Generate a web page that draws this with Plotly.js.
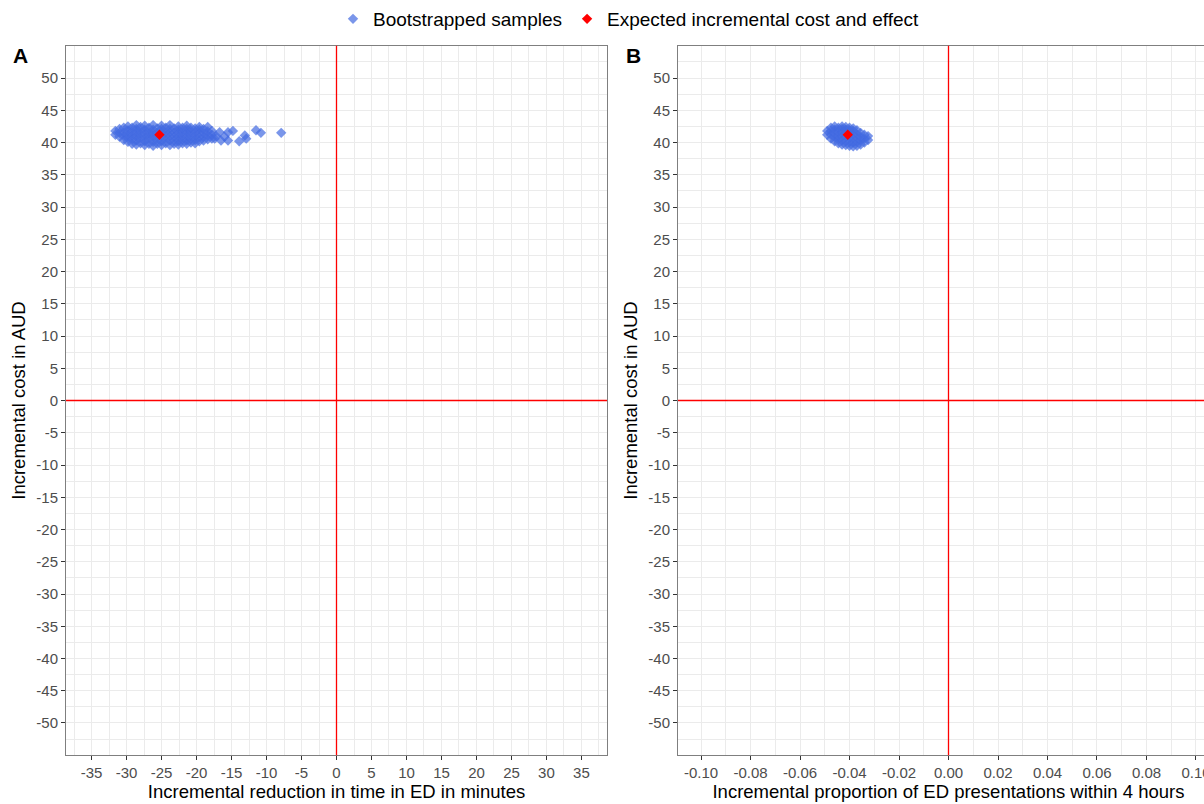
<!DOCTYPE html>
<html>
<head>
<meta charset="utf-8">
<script src="https://cdn.plot.ly/plotly-3.0.1.min.js"></script>
<style>
  html, body { margin: 0; padding: 0; overflow: hidden; background: #fff; }
  #chart { width: 1224px; height: 804px; }
</style>
</head>
<body>
<div id="chart"></div>
<script>
// ---------------- DATA ----------------
// Panel A: bootstrapped samples (incremental minutes, incremental cost AUD)
const bootA_x = [
  -31.6,-31.6,
  -31.0,-31.0,-31.0,
  -30.4,-30.4,-30.4,-30.4,
  -29.8,-29.8,-29.8,-29.8,-29.8,
  -29.2,-29.2,-29.2,-29.2,-29.2,
  -28.6,-28.6,-28.6,-28.6,-28.6,-28.6,
  -28.0,-28.0,-28.0,-28.0,-28.0,
  -27.4,-27.4,-27.4,-27.4,-27.4,-27.4,
  -26.8,-26.8,-26.8,-26.8,-26.8,
  -26.2,-26.2,-26.2,-26.2,-26.2,-26.2,
  -25.6,-25.6,-25.6,-25.6,-25.6,
  -25.0,-25.0,-25.0,-25.0,-25.0,-25.0,
  -24.4,-24.4,-24.4,-24.4,-24.4,
  -23.8,-23.8,-23.8,-23.8,-23.8,-23.8,
  -23.2,-23.2,-23.2,-23.2,-23.2,
  -22.6,-22.6,-22.6,-22.6,-22.6,-22.6,
  -22.0,-22.0,-22.0,-22.0,-22.0,
  -21.4,-21.4,-21.4,-21.4,-21.4,-21.4,
  -20.8,-20.8,-20.8,-20.8,-20.8,
  -20.2,-20.2,-20.2,-20.2,-20.2,
  -19.6,-19.6,-19.6,-19.6,-19.6,
  -19.0,-19.0,-19.0,-19.0,
  -18.4,-18.4,-18.4,-18.4,
  -17.8,-17.8,-17.8,
  -17.2,-16.7,-16.0,-15.5,-15.5,-14.8,-13.9,-13.1,-12.9,-11.5,-10.8,-7.9,-17.4,-16.5
];
const bootA_y = [
  41.2,41.8,
  40.9,41.5,42.1,
  40.4,41.0,41.6,42.3,
  40.1,40.7,41.3,41.9,42.5,
  39.8,40.5,41.1,41.7,42.3,
  39.7,40.3,40.9,41.5,42.1,42.7,
  39.9,40.6,41.2,41.8,42.4,
  39.6,40.2,40.8,41.4,42.0,42.6,
  39.8,40.5,41.1,41.7,42.3,
  39.5,40.1,40.8,41.4,42.0,42.7,
  39.8,40.4,41.0,41.6,42.2,
  39.6,40.2,40.9,41.5,42.1,42.6,
  39.9,40.5,41.1,41.7,42.3,
  39.6,40.3,40.9,41.5,42.1,42.7,
  39.8,40.4,41.0,41.6,42.2,
  39.7,40.2,40.8,41.4,42.0,42.5,
  39.9,40.5,41.1,41.7,42.3,
  39.8,40.3,40.9,41.5,42.1,42.6,
  40.0,40.6,41.2,41.8,42.3,
  39.9,40.4,41.0,41.6,42.2,
  40.2,40.8,41.4,42.0,42.4,
  40.3,40.9,41.5,42.1,
  40.5,41.1,41.7,42.4,
  40.6,41.2,41.8,
  41.0,41.6,40.9,41.6,40.3,41.8,40.2,41.1,40.6,41.9,41.5,41.5,40.6,40.3
];
// Panel B: bootstrapped samples (incremental proportion, incremental cost AUD)
const bootB_x = [
  -0.0490,-0.0490,
  -0.0475,-0.0475,-0.0475,-0.0475,
  -0.0460,-0.0460,-0.0460,-0.0460,-0.0460,
  -0.0445,-0.0445,-0.0445,-0.0445,-0.0445,
  -0.0430,-0.0430,-0.0430,-0.0430,-0.0430,-0.0430,
  -0.0415,-0.0415,-0.0415,-0.0415,-0.0415,-0.0415,
  -0.0400,-0.0400,-0.0400,-0.0400,-0.0400,-0.0400,
  -0.0385,-0.0385,-0.0385,-0.0385,-0.0385,-0.0385,
  -0.0370,-0.0370,-0.0370,-0.0370,-0.0370,
  -0.0355,-0.0355,-0.0355,-0.0355,
  -0.0340,-0.0340,-0.0340,
  -0.0325,-0.0325
];
const bootB_y = [
  41.2,41.8,
  40.6,41.2,41.8,42.3,
  40.2,40.8,41.4,42.0,42.5,
  39.9,40.5,41.1,41.7,42.3,
  39.7,40.3,40.9,41.5,42.1,42.5,
  39.6,40.2,40.8,41.4,42.0,42.4,
  39.5,40.1,40.7,41.3,41.9,42.3,
  39.4,40.0,40.6,41.2,41.8,42.2,
  39.5,40.1,40.7,41.3,41.9,
  39.7,40.3,40.9,41.5,
  40.0,40.6,41.2,
  40.4,41.0
];
// Expected incremental cost and effect
const expA_x = [-25.3];
const expA_y = [41.2];
const expB_x = [-0.0407];
const expB_y = [41.2];

// Tick values / labels
const yTickVals = [-50,-45,-40,-35,-30,-25,-20,-15,-10,-5,0,5,10,15,20,25,30,35,40,45,50];
const yTickText = ["-50","-45","-40","-35","-30","-25","-20","-15","-10","-5","0","5","10","15","20","25","30","35","40","45","50"];
const xATickVals = [-35,-30,-25,-20,-15,-10,-5,0,5,10,15,20,25,30,35];
const xATickText = ["-35","-30","-25","-20","-15","-10","-5","0","5","10","15","20","25","30","35"];
const xBTickVals = [-0.10,-0.08,-0.06,-0.04,-0.02,0,0.02,0.04,0.06,0.08,0.10];
const xBTickText = ["-0.10","-0.08","-0.06","-0.04","-0.02","0.00","0.02","0.04","0.06","0.08","0.10"];

const legendNames = ["Bootstrapped samples", "Expected incremental cost and effect"];
const xTitleA = "Incremental reduction in time in ED in minutes";
const xTitleB = "Incremental proportion of ED presentations within 4 hours";
const yTitle = "Incremental cost in AUD";

// ---------------- STYLE ----------------
const W = 1224, H = 804;
const BLUE = "#4169E1", RED = "#FF0000";
const GRID = "#EBEBEB";
const FAMILY = "Liberation Sans, Arial, sans-serif";

const bootMarker = {symbol: "diamond", size: 8, color: BLUE, opacity: 0.7, line: {width: 0}};
const expMarker = {symbol: "diamond", size: 8, color: RED, line: {width: 0}};

const traces = [
  {type: "scatter", mode: "markers", x: bootA_x, y: bootA_y, xaxis: "x", yaxis: "y",
   name: legendNames[0], marker: bootMarker, showlegend: true, legendgroup: "b"},
  {type: "scatter", mode: "markers", x: expA_x, y: expA_y, xaxis: "x", yaxis: "y",
   name: legendNames[1], marker: expMarker, showlegend: true, legendgroup: "e"},
  {type: "scatter", mode: "markers", x: bootB_x, y: bootB_y, xaxis: "x2", yaxis: "y2",
   name: legendNames[0], marker: bootMarker, showlegend: false, legendgroup: "b"},
  {type: "scatter", mode: "markers", x: expB_x, y: expB_y, xaxis: "x2", yaxis: "y2",
   name: legendNames[1], marker: expMarker, showlegend: false, legendgroup: "e"}
];

const tickFont = {family: FAMILY, size: 15, color: "#4D4D4D"};
const titleFont = {family: FAMILY, size: 18.5, color: "#000"};

function axisBase() {
  return {
    showline: true, mirror: true, linecolor: "#7F7F7F", linewidth: 1,
    ticks: "outside", ticklen: 4, tickcolor: "#333333", tickwidth: 1,
    showgrid: true, gridcolor: GRID, gridwidth: 1.2,
    zeroline: false,
    tickfont: tickFont, tickmode: "array"
  };
}

const yDom = [49 / H, 762 / H];

function refLine(xr, yr, vertical) {
  return vertical
    ? {type: "line", xref: xr, yref: yr + " domain", x0: 0, x1: 0, y0: 0, y1: 1, layer: "above",
       line: {color: RED, width: 1.3}}
    : {type: "line", xref: xr + " domain", yref: yr, x0: 0, x1: 1, y0: 0, y1: 0, layer: "above",
       line: {color: RED, width: 1.3}};
}

const layout = {
  width: W, height: H,
  margin: {l: 0, r: 0, t: 0, b: 0},
  paper_bgcolor: "#fff", plot_bgcolor: "#fff",
  font: {family: FAMILY},
  showlegend: true,
  legend: {orientation: "h", x: 629 / W, xanchor: "center", y: 1 - 15 / H, yanchor: "middle",
           font: {family: FAMILY, size: 19, color: "#000"},
           itemclick: false, bgcolor: "rgba(0,0,0,0)"},
  xaxis: Object.assign(axisBase(), {
    domain: [66 / W, 607 / W], range: [-38.65, 38.65], anchor: "y",
    tickvals: xATickVals, ticktext: xATickText,
    minor: {tickmode: "linear", tick0: 0, dtick: 2.5, showgrid: true, gridcolor: GRID, gridwidth: 0.8, ticks: ""},
    title: {text: xTitleA, font: titleFont, standoff: 3}
  }),
  yaxis: Object.assign(axisBase(), {
    domain: yDom, range: [-55, 55], anchor: "x",
    tickvals: yTickVals, ticktext: yTickText,
    minor: {tickmode: "linear", tick0: 0, dtick: 2.5, showgrid: true, gridcolor: GRID, gridwidth: 0.8, ticks: ""},
    title: {text: yTitle, font: titleFont, standoff: 5}
  }),
  xaxis2: Object.assign(axisBase(), {
    domain: [678 / W, 1219 / W], range: [-0.1093, 0.1093], anchor: "y2",
    tickvals: xBTickVals, ticktext: xBTickText,
    minor: {tickmode: "linear", tick0: 0, dtick: 0.01, showgrid: true, gridcolor: GRID, gridwidth: 0.8, ticks: ""},
    title: {text: xTitleB, font: titleFont, standoff: 3}
  }),
  yaxis2: Object.assign(axisBase(), {
    domain: yDom, range: [-55, 55], anchor: "x2",
    tickvals: yTickVals, ticktext: yTickText,
    minor: {tickmode: "linear", tick0: 0, dtick: 2.5, showgrid: true, gridcolor: GRID, gridwidth: 0.8, ticks: ""},
    title: {text: yTitle, font: titleFont, standoff: 5}
  }),
  shapes: [
    refLine("x", "y", true), refLine("x", "y", false),
    refLine("x2", "y2", true), refLine("x2", "y2", false)
  ],
  annotations: [
    {text: "<b>A</b>", xref: "paper", yref: "paper", x: 20 / W, y: 1 - 52 / H, xanchor: "center", yanchor: "middle",
     showarrow: false, font: {family: FAMILY, size: 21, color: "#000"}},
    {text: "<b>B</b>", xref: "paper", yref: "paper", x: 633 / W, y: 1 - 52 / H, xanchor: "center", yanchor: "middle",
     showarrow: false, font: {family: FAMILY, size: 21, color: "#000"}}
  ]
};

Plotly.newPlot("chart", traces, layout, {displayModeBar: false, responsive: false});
</script>
</body>
</html>
